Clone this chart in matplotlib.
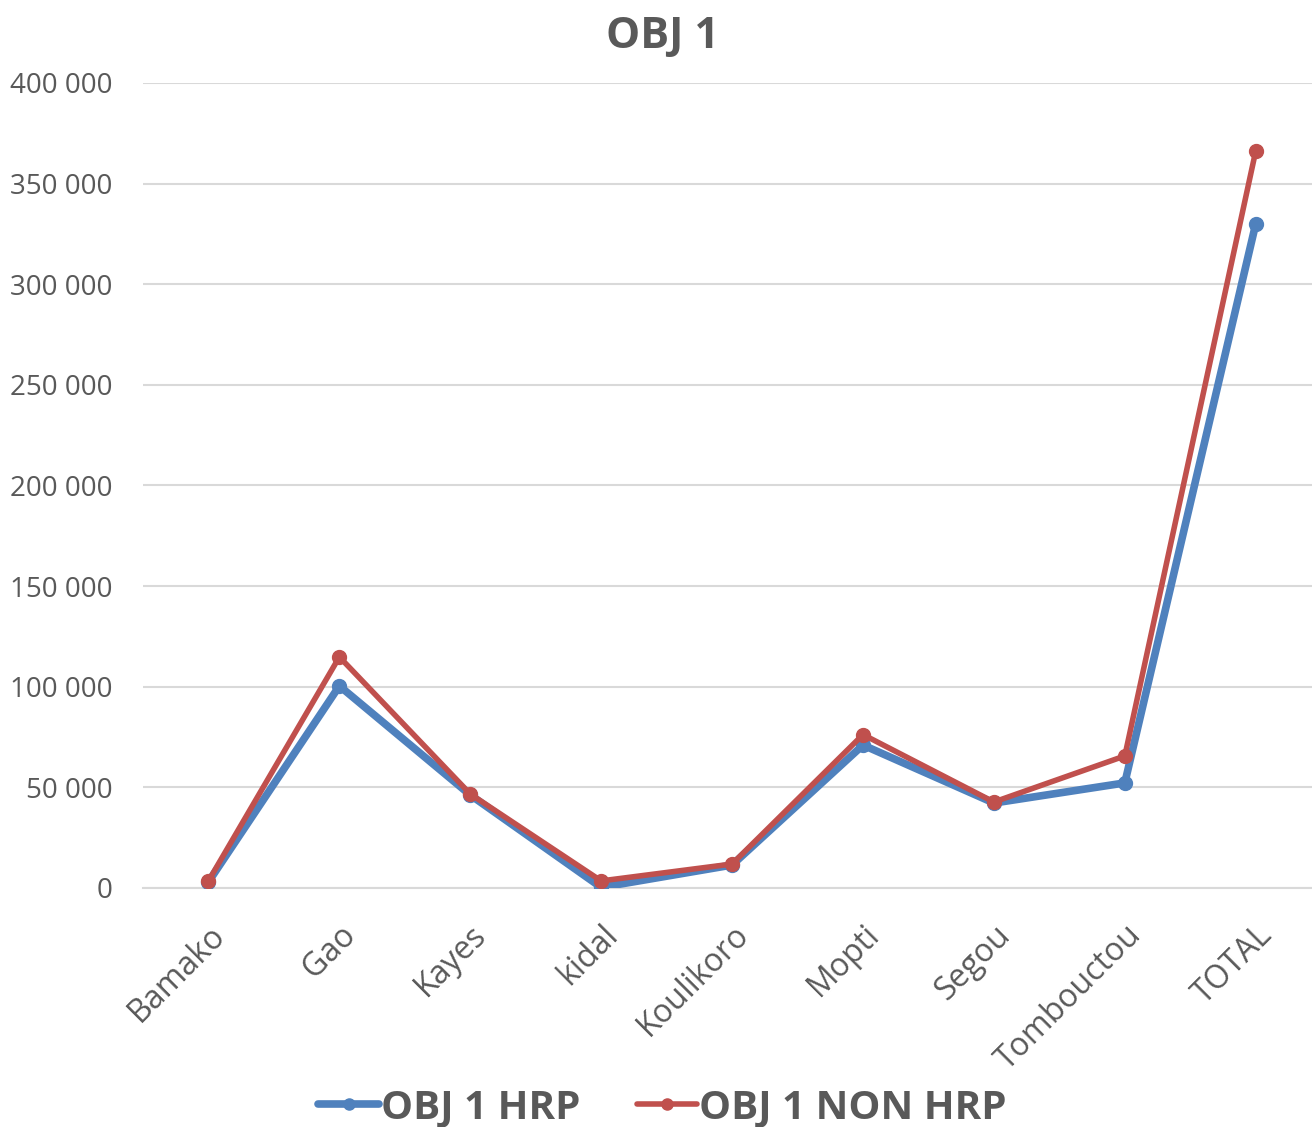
import matplotlib.pyplot as plt
from matplotlib.ticker import FuncFormatter

# Data
regions = ['Bamako', 'Gao', 'Kayes', 'kidal', 'Koulikoro', 'Mopti', 'Segou', 'Tombouctou', 'TOTAL']
obj1_hrp = [3000, 100400, 46200, 300, 11400, 71000, 42200, 52200, 330000]
obj1_non_hrp = [3500, 114800, 46700, 3500, 11900, 76200, 42700, 65600, 366200]

TEXT = '#595959'
plt.rcParams['font.family'] = ['Open Sans', 'DejaVu Sans']

fig = plt.figure(figsize=(13.12, 11.27), dpi=100)
ax = fig.add_axes([0.109, 0.2121, 0.898, 0.7143])

x = range(len(regions))
ax.plot(x, obj1_hrp, color='#4F81BD', lw=5.5, marker='o', markersize=10,
        solid_capstyle='round', label='OBJ 1 HRP', zorder=3)
ax.plot(x, obj1_non_hrp, color='#C0504D', lw=4, marker='o', markersize=10,
        solid_capstyle='round', label='OBJ 1 NON HRP', zorder=4)

ax.set_xlim(-0.5, len(regions) - 0.5)
ax.set_ylim(0, 400000)
ax.set_yticks(range(0, 400001, 50000))
ax.yaxis.set_major_formatter(FuncFormatter(lambda v, p: f'{int(v):,}'.replace(',', ' ')))
ax.grid(axis='y', color='#D9D9D9', lw=1.5)
ax.set_axisbelow(True)
for s in ['top', 'right', 'left']:
    ax.spines[s].set_visible(False)
ax.spines['bottom'].set_color('#D9D9D9')
ax.spines['bottom'].set_linewidth(1.5)

ax.set_xticks(list(x))
ax.set_xticklabels(regions, rotation=45, ha='right', rotation_mode='anchor')
ax.tick_params(axis='both', length=0, labelcolor=TEXT)
ax.tick_params(axis='y', labelsize=20, pad=22)
ax.tick_params(axis='x', labelsize=23, pad=22)

fig.text(0.505, 0.968, 'OBJ 1', ha='center', va='center', fontsize=31,
         fontweight='bold', color=TEXT)

fig.legend(loc='center', bbox_to_anchor=(0.505, 0.017), ncol=2, frameon=False,
           prop={'weight': 'bold', 'size': 29}, labelcolor=TEXT,
           handlelength=1.5, handletextpad=0.05, columnspacing=1.4,
           markerscale=0.8)

fig.savefig('out.png', dpi=100)
